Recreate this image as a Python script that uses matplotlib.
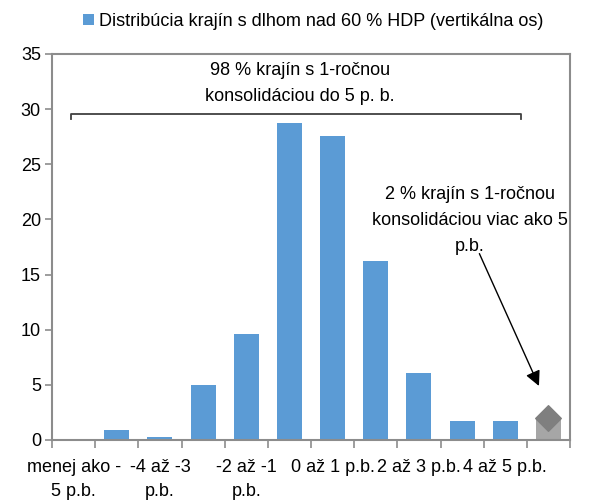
import matplotlib.pyplot as plt
import numpy as np

plt.rcParams['font.family'] = ['Liberation Sans', 'DejaVu Sans']

categories = ['menej ako -\n5 p.b.', '-5 až -4\np.b.', '-4 až -3\np.b.', '-3 až -2\np.b.',
              '-2 až -1\np.b.', '-1 až 0\np.b.', '0 až 1 p.b.', '1 až 2 p.b.',
              '2 až 3 p.b.', '3 až 4 p.b.', '4 až 5 p.b.', 'viac ako 5 p.b.']
share = [0.0, 0.9, 0.27, 4.95, 9.6, 28.75, 27.6, 16.25, 6.1, 1.7, 1.7, 1.95]
marker_value = 1.95  # diamond on the last bin

blue = '#5B9BD5'
grey_bar = '#A6A6A6'
grey_mark = '#7F7F7F'
spine_col = '#8C8C8C'

fig = plt.figure(figsize=(6.02, 5.0), dpi=100)
ax = fig.add_axes([0.0864, 0.12, 0.8605, 0.772])

x = np.arange(len(categories))
colors = [blue] * (len(categories) - 1) + [grey_bar]
bars = ax.bar(x, share, width=0.58, color=colors, zorder=2)
bars[0].set_label('Distribúcia krajín s dlhom nad 60 % HDP (vertikálna os)')
ax.scatter([x[-1]], [marker_value], marker='D', s=170, color=grey_mark, zorder=3)

ax.set_xlim(-0.5, len(categories) - 0.5)
ax.set_ylim(0, 35)
ax.set_yticks(range(0, 36, 5))

# labels only on every second category (like excel does)
ax.set_xticks(x[::2])
ax.set_xticklabels(categories[::2], fontsize=13, linespacing=1.5)
ax.set_xticks(np.arange(-0.5, len(categories), 1), minor=True)
ax.tick_params(axis='x', which='major', length=0, pad=14)
ax.tick_params(axis='x', which='minor', length=6, color=spine_col, width=1.2)
ax.tick_params(axis='y', length=5, color=spine_col, width=1.2, labelsize=13, pad=3)

for s in ax.spines.values():
    s.set_color(spine_col)
    s.set_linewidth(1.5)

# bracket over the 98 %
ax.plot([-0.06, -0.06, 10.36, 10.36], [29.1, 29.6, 29.6, 29.1], color='#404040', lw=1.3)
ax.text(5.24, 32.3, '98 % krajín s 1-ročnou\nkonsolidáciou do 5 p. b.',
        ha='center', va='center', fontsize=13, linespacing=1.7)

ax.text(9.18, 19.9, '2 % krajín s 1-ročnou\nkonsolidáciou viac ako 5\np.b.',
        ha='center', va='center', fontsize=13, linespacing=1.7)
ax.annotate('', xy=(10.78, 4.9), xytext=(9.4, 16.9),
            arrowprops=dict(arrowstyle='-|>,head_length=0.9,head_width=0.45',
                            color='black', lw=1.0, shrinkA=0, shrinkB=0))

fig.legend(handles=[bars[0]], loc='center', bbox_to_anchor=(0.52, 0.957),
           frameon=False, fontsize=13, handlelength=0.6, handleheight=0.6,
           handletextpad=0.3)

fig.savefig('out.png', dpi=100)
